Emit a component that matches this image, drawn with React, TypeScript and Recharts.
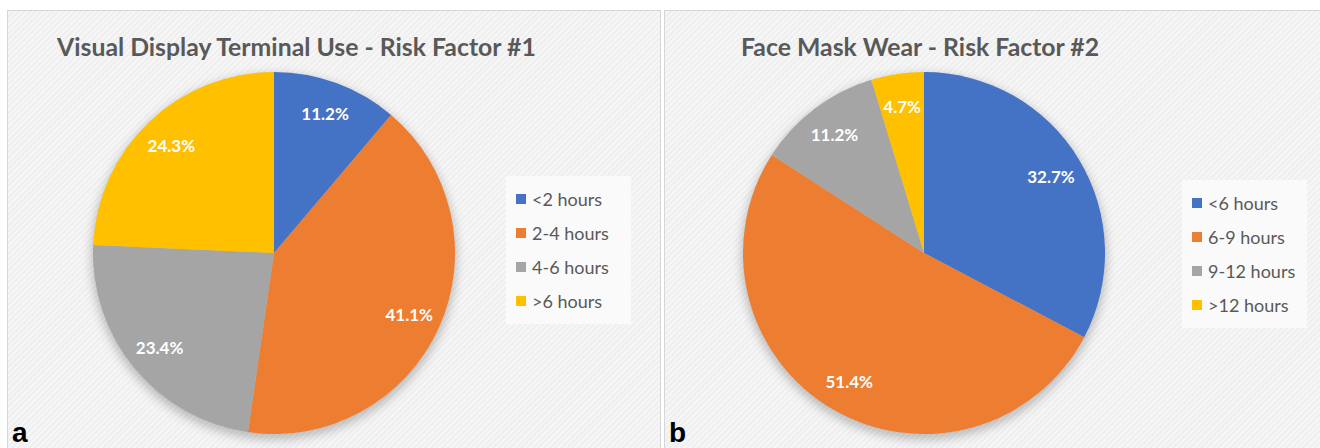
import { Cell, Legend, Pie, PieChart } from "recharts";

const terminalHours = ["<2 hours", "2-4 hours", "4-6 hours", ">6 hours"];
const terminalShares = [11.2, 41.1, 23.4, 24.3];

const maskHours = ["<6 hours", "6-9 hours", "9-12 hours", ">12 hours"];
const maskShares = [32.7, 51.4, 11.2, 4.7];

const sliceColors = ["#4472C4", "#ED7D31", "#A5A5A5", "#FFC000"];

const FONT = "Lato, 'Open Sans', sans-serif";
const RADIAN = Math.PI / 180;

const renderPct = (p: any) => {
  const r = p.outerRadius * 0.82;
  const a = -p.midAngle * RADIAN;
  return (
    <text
      x={p.cx + r * Math.cos(a)}
      y={p.cy + r * Math.sin(a)}
      fill="#fff"
      textAnchor="middle"
      dominantBaseline="central"
      fontWeight={700}
      fontSize={17}
      fontFamily={FONT}
    >
      {`${Number(p.value).toFixed(1)}%`}
    </text>
  );
};

const makeLegend = (order: string[]) => (props: any) => {
  // keep the slice order, drop the shadow pie
  const items = (props.payload || [])
    .filter((it: any) => order.includes(it.value))
    .sort((x: any, y: any) => order.indexOf(x.value) - order.indexOf(y.value));
  return (
    <div style={{ background: "#fafafa", padding: "6px 10px", fontFamily: FONT }}>
      {items.map((it: any) => (
        <div
          key={it.value}
          style={{ display: "flex", alignItems: "center", height: 34, fontSize: 18, color: "#595959" }}
        >
          <span style={{ width: 10, height: 10, background: it.color, marginRight: 6 }} />
          {it.value}
        </div>
      ))}
    </div>
  );
};

function RiskPanel({
  left,
  width,
  title,
  letter,
  names,
  values,
  cx,
  legendX,
  legendY,
}: {
  left: number;
  width: number;
  title: string;
  letter: string;
  names: string[];
  values: number[];
  cx: number;
  legendX: number;
  legendY: number;
}) {
  const data = names.map((name, i) => ({ name, value: values[i] }));
  return (
    <div
      style={{
        position: "absolute",
        left,
        top: 10,
        width,
        height: 446,
        border: "1px solid #d6d6d6",
        boxSizing: "border-box",
        background:
          "repeating-linear-gradient(-45deg, #f6f6f6 0px, #f6f6f6 2px, #efefef 2px, #efefef 4px)",
      }}
    >
      <div
        style={{
          position: "absolute",
          left: title.startsWith("Visual") ? 49 : 76,
          top: 21,
          fontFamily: FONT,
          fontWeight: 700,
          fontSize: 24.8,
          color: "#595959",
          whiteSpace: "nowrap",
        }}
      >
        {title}
      </div>
      <PieChart width={width - 2} height={444} style={{ position: "absolute", left: 0, top: 0 }}>
        <defs>
          <filter id={`shadow-${letter}`} x="-20%" y="-20%" width="140%" height="140%">
            <feGaussianBlur stdDeviation="5" />
          </filter>
        </defs>
        <Pie
          data={[{ name: "shadow", value: 1 }]}
          dataKey="value"
          cx={cx}
          cy={241}
          outerRadius={183}
          startAngle={90}
          endAngle={-270}
          stroke="none"
          legendType="none"
          isAnimationActive={false}
        >
          <Cell fill="rgba(0,0,0,0.22)" filter={`url(#shadow-${letter})`} />
        </Pie>
        <Pie
          data={data}
          dataKey="value"
          nameKey="name"
          cx={cx}
          cy={237}
          outerRadius={181}
          startAngle={90}
          endAngle={-270}
          stroke="none"
          label={renderPct}
          labelLine={false}
          isAnimationActive={false}
        >
          {data.map((d, i) => (
            <Cell key={d.name} fill={sliceColors[i]} />
          ))}
        </Pie>
        <Legend
          layout="vertical"
          align="right"
          verticalAlign="middle"
          content={makeLegend(names)}
          wrapperStyle={{ left: legendX, top: legendY, width: 125 }}
        />
      </PieChart>
      <div
        style={{
          position: "absolute",
          left: 4,
          top: 406,
          fontFamily: "'Liberation Sans', Arial, sans-serif",
          fontWeight: 700,
          fontSize: 28,
          color: "#000",
        }}
      >
        {letter}
      </div>
    </div>
  );
}

export default function App() {
  return (
    <div style={{ position: "absolute", left: 0, top: 0, width: 1320, height: 448, background: "#fff", overflow: "hidden" }}>
      <RiskPanel
        left={7}
        width={654}
        title="Visual Display Terminal Use - Risk Factor #1"
        letter="a"
        names={terminalHours}
        values={terminalShares}
        cx={261}
        legendX={498}
        legendY={165}
      />
      <RiskPanel
        left={664}
        width={660}
        title="Face Mask Wear - Risk Factor #2"
        letter="b"
        names={maskHours}
        values={maskShares}
        cx={254}
        legendX={517}
        legendY={169}
      />
    </div>
  );
}
